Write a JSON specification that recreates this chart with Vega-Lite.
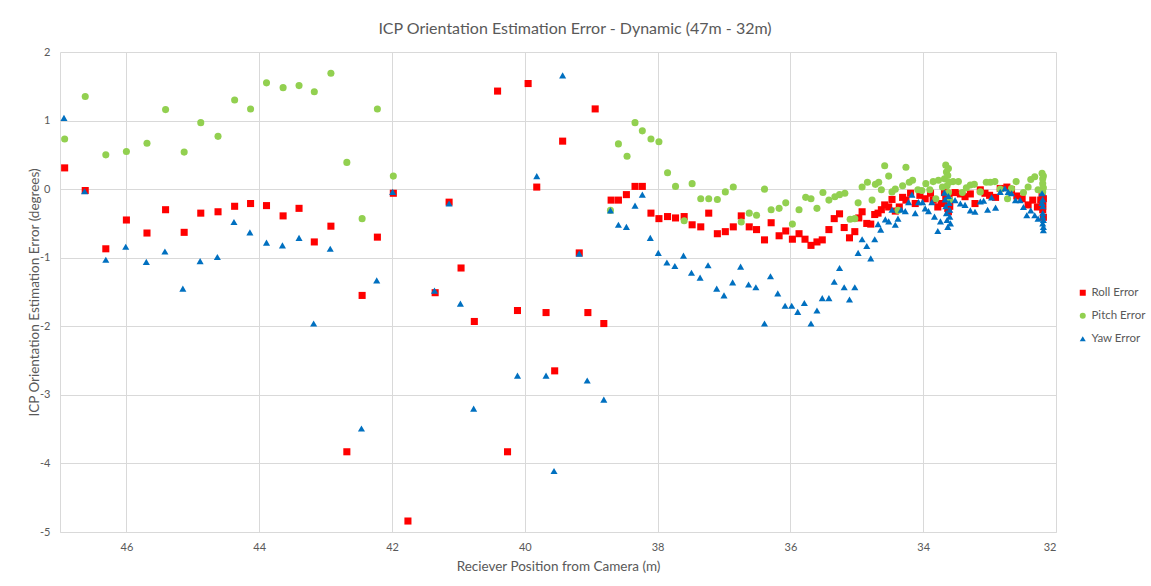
{
  "$schema": "https://vega.github.io/schema/vega-lite/v6.json",
  "width": 996,
  "height": 480,
  "autosize": {"type": "none"},
  "padding": {"left": 60, "top": 52, "right": 95, "bottom": 54},
  "background": "white",
  "config": {
    "view": {"stroke": null},
    "font": "Lato",
    "axis": {"labelColor": "#595959", "titleColor": "#595959", "labelFont": "Lato", "titleFont": "Lato", "titleFontWeight": "normal", "gridColor": "#d9d9d9", "domainColor": "#d9d9d9", "ticks": false, "labelFontSize": 11, "titleFontSize": 13.5}
  },
  "title": {"text": "ICP Orientation Estimation Error - Dynamic (47m - 32m)", "fontSize": 16, "fontWeight": "normal", "color": "#595959", "font": "Lato", "anchor": "middle", "dx": 17, "offset": 9},
  "data": {"values": [
    {"p":46.93,"e":0.31,"s":"Roll Error"},{"p":46.62,"e":-0.02,"s":"Roll Error"},{"p":46.31,"e":-0.87,"s":"Roll Error"},{"p":46.0,"e":-0.45,"s":"Roll Error"},{"p":45.69,"e":-0.64,"s":"Roll Error"},{"p":45.41,"e":-0.3,"s":"Roll Error"},{"p":45.13,"e":-0.63,"s":"Roll Error"},{"p":44.88,"e":-0.35,"s":"Roll Error"},{"p":44.62,"e":-0.33,"s":"Roll Error"},{"p":44.37,"e":-0.25,"s":"Roll Error"},{"p":44.13,"e":-0.21,"s":"Roll Error"},{"p":43.89,"e":-0.24,"s":"Roll Error"},{"p":43.64,"e":-0.39,"s":"Roll Error"},{"p":43.4,"e":-0.28,"s":"Roll Error"},{"p":43.17,"e":-0.77,"s":"Roll Error"},{"p":42.92,"e":-0.54,"s":"Roll Error"},{"p":42.68,"e":-3.83,"s":"Roll Error"},{"p":42.45,"e":-1.55,"s":"Roll Error"},{"p":42.22,"e":-0.7,"s":"Roll Error"},{"p":41.98,"e":-0.06,"s":"Roll Error"},{"p":41.76,"e":-4.84,"s":"Roll Error"},{"p":41.35,"e":-1.51,"s":"Roll Error"},{"p":41.14,"e":-0.19,"s":"Roll Error"},{"p":40.96,"e":-1.15,"s":"Roll Error"},{"p":40.76,"e":-1.93,"s":"Roll Error"},{"p":40.41,"e":1.43,"s":"Roll Error"},{"p":40.26,"e":-3.83,"s":"Roll Error"},{"p":40.11,"e":-1.77,"s":"Roll Error"},{"p":39.95,"e":1.54,"s":"Roll Error"},{"p":39.82,"e":0.03,"s":"Roll Error"},{"p":39.68,"e":-1.8,"s":"Roll Error"},{"p":39.55,"e":-2.65,"s":"Roll Error"},{"p":39.43,"e":0.7,"s":"Roll Error"},{"p":39.18,"e":-0.93,"s":"Roll Error"},{"p":39.05,"e":-1.8,"s":"Roll Error"},{"p":38.94,"e":1.17,"s":"Roll Error"},{"p":38.81,"e":-1.96,"s":"Roll Error"},{"p":38.7,"e":-0.16,"s":"Roll Error"},{"p":38.59,"e":-0.16,"s":"Roll Error"},{"p":38.47,"e":-0.08,"s":"Roll Error"},{"p":38.34,"e":0.04,"s":"Roll Error"},{"p":38.23,"e":0.04,"s":"Roll Error"},{"p":38.1,"e":-0.35,"s":"Roll Error"},{"p":37.98,"e":-0.43,"s":"Roll Error"},{"p":37.85,"e":-0.4,"s":"Roll Error"},{"p":37.73,"e":-0.42,"s":"Roll Error"},{"p":37.6,"e":-0.4,"s":"Roll Error"},{"p":37.48,"e":-0.52,"s":"Roll Error"},{"p":37.35,"e":-0.55,"s":"Roll Error"},{"p":37.23,"e":-0.35,"s":"Roll Error"},{"p":37.1,"e":-0.65,"s":"Roll Error"},{"p":36.98,"e":-0.62,"s":"Roll Error"},{"p":36.86,"e":-0.55,"s":"Roll Error"},{"p":36.74,"e":-0.39,"s":"Roll Error"},{"p":36.62,"e":-0.55,"s":"Roll Error"},{"p":36.51,"e":-0.59,"s":"Roll Error"},{"p":36.39,"e":-0.74,"s":"Roll Error"},{"p":36.29,"e":-0.49,"s":"Roll Error"},{"p":36.17,"e":-0.68,"s":"Roll Error"},{"p":36.07,"e":-0.61,"s":"Roll Error"},{"p":35.97,"e":-0.73,"s":"Roll Error"},{"p":35.87,"e":-0.65,"s":"Roll Error"},{"p":35.78,"e":-0.73,"s":"Roll Error"},{"p":35.69,"e":-0.82,"s":"Roll Error"},{"p":35.6,"e":-0.77,"s":"Roll Error"},{"p":35.52,"e":-0.74,"s":"Roll Error"},{"p":35.42,"e":-0.59,"s":"Roll Error"},{"p":35.34,"e":-0.43,"s":"Roll Error"},{"p":35.26,"e":-0.36,"s":"Roll Error"},{"p":35.19,"e":-0.56,"s":"Roll Error"},{"p":35.11,"e":-0.71,"s":"Roll Error"},{"p":35.03,"e":-0.62,"s":"Roll Error"},{"p":34.97,"e":-0.42,"s":"Roll Error"},{"p":34.92,"e":-0.33,"s":"Roll Error"},{"p":34.85,"e":-0.5,"s":"Roll Error"},{"p":34.79,"e":-0.51,"s":"Roll Error"},{"p":34.73,"e":-0.37,"s":"Roll Error"},{"p":34.68,"e":-0.35,"s":"Roll Error"},{"p":34.63,"e":-0.3,"s":"Roll Error"},{"p":34.58,"e":-0.23,"s":"Roll Error"},{"p":34.52,"e":-0.26,"s":"Roll Error"},{"p":34.47,"e":-0.15,"s":"Roll Error"},{"p":34.42,"e":-0.32,"s":"Roll Error"},{"p":34.36,"e":-0.26,"s":"Roll Error"},{"p":34.31,"e":-0.12,"s":"Roll Error"},{"p":34.26,"e":-0.16,"s":"Roll Error"},{"p":34.19,"e":-0.06,"s":"Roll Error"},{"p":34.12,"e":-0.21,"s":"Roll Error"},{"p":34.05,"e":-0.09,"s":"Roll Error"},{"p":33.97,"e":-0.14,"s":"Roll Error"},{"p":33.89,"e":-0.06,"s":"Roll Error"},{"p":33.85,"e":-0.16,"s":"Roll Error"},{"p":33.78,"e":-0.26,"s":"Roll Error"},{"p":33.73,"e":-0.21,"s":"Roll Error"},{"p":33.68,"e":-0.05,"s":"Roll Error"},{"p":33.66,"e":-0.12,"s":"Roll Error"},{"p":33.64,"e":-0.2,"s":"Roll Error"},{"p":33.63,"e":-0.28,"s":"Roll Error"},{"p":33.62,"e":-0.33,"s":"Roll Error"},{"p":33.61,"e":-0.1,"s":"Roll Error"},{"p":33.6,"e":-0.25,"s":"Roll Error"},{"p":33.52,"e":-0.05,"s":"Roll Error"},{"p":33.44,"e":-0.07,"s":"Roll Error"},{"p":33.37,"e":-0.11,"s":"Roll Error"},{"p":33.29,"e":-0.07,"s":"Roll Error"},{"p":33.22,"e":-0.21,"s":"Roll Error"},{"p":33.14,"e":-0.01,"s":"Roll Error"},{"p":33.07,"e":-0.06,"s":"Roll Error"},{"p":33.0,"e":-0.09,"s":"Roll Error"},{"p":32.91,"e":-0.12,"s":"Roll Error"},{"p":32.84,"e":0.01,"s":"Roll Error"},{"p":32.74,"e":0.03,"s":"Roll Error"},{"p":32.67,"e":-0.01,"s":"Roll Error"},{"p":32.59,"e":-0.1,"s":"Roll Error"},{"p":32.51,"e":-0.14,"s":"Roll Error"},{"p":32.42,"e":-0.23,"s":"Roll Error"},{"p":32.35,"e":-0.16,"s":"Roll Error"},{"p":32.28,"e":-0.26,"s":"Roll Error"},{"p":32.23,"e":-0.16,"s":"Roll Error"},{"p":32.21,"e":-0.09,"s":"Roll Error"},{"p":32.2,"e":-0.2,"s":"Roll Error"},{"p":32.2,"e":-0.3,"s":"Roll Error"},{"p":32.19,"e":-0.41,"s":"Roll Error"},{"p":32.19,"e":-0.14,"s":"Roll Error"},{"p":32.2,"e":-0.25,"s":"Roll Error"},
    {"p":46.93,"e":0.73,"s":"Pitch Error"},{"p":46.62,"e":1.35,"s":"Pitch Error"},{"p":46.31,"e":0.5,"s":"Pitch Error"},{"p":46.0,"e":0.55,"s":"Pitch Error"},{"p":45.69,"e":0.67,"s":"Pitch Error"},{"p":45.41,"e":1.16,"s":"Pitch Error"},{"p":45.13,"e":0.54,"s":"Pitch Error"},{"p":44.88,"e":0.97,"s":"Pitch Error"},{"p":44.62,"e":0.77,"s":"Pitch Error"},{"p":44.37,"e":1.3,"s":"Pitch Error"},{"p":44.13,"e":1.17,"s":"Pitch Error"},{"p":43.89,"e":1.55,"s":"Pitch Error"},{"p":43.64,"e":1.48,"s":"Pitch Error"},{"p":43.4,"e":1.51,"s":"Pitch Error"},{"p":43.17,"e":1.42,"s":"Pitch Error"},{"p":42.92,"e":1.69,"s":"Pitch Error"},{"p":42.68,"e":0.39,"s":"Pitch Error"},{"p":42.45,"e":-0.43,"s":"Pitch Error"},{"p":42.22,"e":1.17,"s":"Pitch Error"},{"p":41.98,"e":0.19,"s":"Pitch Error"},{"p":38.71,"e":-0.31,"s":"Pitch Error"},{"p":38.59,"e":0.66,"s":"Pitch Error"},{"p":38.46,"e":0.48,"s":"Pitch Error"},{"p":38.34,"e":0.97,"s":"Pitch Error"},{"p":38.23,"e":0.85,"s":"Pitch Error"},{"p":38.1,"e":0.73,"s":"Pitch Error"},{"p":37.98,"e":0.69,"s":"Pitch Error"},{"p":37.85,"e":0.24,"s":"Pitch Error"},{"p":37.73,"e":0.04,"s":"Pitch Error"},{"p":37.6,"e":-0.46,"s":"Pitch Error"},{"p":37.48,"e":0.08,"s":"Pitch Error"},{"p":37.35,"e":-0.14,"s":"Pitch Error"},{"p":37.23,"e":-0.14,"s":"Pitch Error"},{"p":37.1,"e":-0.15,"s":"Pitch Error"},{"p":36.98,"e":-0.04,"s":"Pitch Error"},{"p":36.86,"e":0.03,"s":"Pitch Error"},{"p":36.74,"e":-0.48,"s":"Pitch Error"},{"p":36.62,"e":-0.35,"s":"Pitch Error"},{"p":36.51,"e":-0.38,"s":"Pitch Error"},{"p":36.39,"e":0.0,"s":"Pitch Error"},{"p":36.29,"e":-0.3,"s":"Pitch Error"},{"p":36.17,"e":-0.28,"s":"Pitch Error"},{"p":36.07,"e":-0.2,"s":"Pitch Error"},{"p":35.97,"e":-0.51,"s":"Pitch Error"},{"p":35.87,"e":-0.3,"s":"Pitch Error"},{"p":35.77,"e":-0.12,"s":"Pitch Error"},{"p":35.69,"e":-0.14,"s":"Pitch Error"},{"p":35.6,"e":-0.28,"s":"Pitch Error"},{"p":35.51,"e":-0.05,"s":"Pitch Error"},{"p":35.42,"e":-0.16,"s":"Pitch Error"},{"p":35.33,"e":-0.11,"s":"Pitch Error"},{"p":35.26,"e":-0.08,"s":"Pitch Error"},{"p":35.18,"e":-0.06,"s":"Pitch Error"},{"p":35.1,"e":-0.44,"s":"Pitch Error"},{"p":35.03,"e":-0.43,"s":"Pitch Error"},{"p":34.98,"e":-0.2,"s":"Pitch Error"},{"p":34.92,"e":0.03,"s":"Pitch Error"},{"p":34.84,"e":0.1,"s":"Pitch Error"},{"p":34.77,"e":-0.16,"s":"Pitch Error"},{"p":34.72,"e":0.07,"s":"Pitch Error"},{"p":34.67,"e":0.1,"s":"Pitch Error"},{"p":34.63,"e":-0.01,"s":"Pitch Error"},{"p":34.58,"e":0.34,"s":"Pitch Error"},{"p":34.52,"e":0.19,"s":"Pitch Error"},{"p":34.47,"e":-0.04,"s":"Pitch Error"},{"p":34.42,"e":0.0,"s":"Pitch Error"},{"p":34.38,"e":-0.31,"s":"Pitch Error"},{"p":34.31,"e":0.05,"s":"Pitch Error"},{"p":34.26,"e":0.32,"s":"Pitch Error"},{"p":34.21,"e":0.1,"s":"Pitch Error"},{"p":34.16,"e":0.13,"s":"Pitch Error"},{"p":34.08,"e":-0.01,"s":"Pitch Error"},{"p":34.02,"e":-0.02,"s":"Pitch Error"},{"p":33.96,"e":0.08,"s":"Pitch Error"},{"p":33.9,"e":-0.01,"s":"Pitch Error"},{"p":33.85,"e":0.11,"s":"Pitch Error"},{"p":33.81,"e":-0.14,"s":"Pitch Error"},{"p":33.77,"e":0.13,"s":"Pitch Error"},{"p":33.71,"e":0.03,"s":"Pitch Error"},{"p":33.68,"e":0.15,"s":"Pitch Error"},{"p":33.66,"e":0.35,"s":"Pitch Error"},{"p":33.65,"e":0.25,"s":"Pitch Error"},{"p":33.64,"e":0.05,"s":"Pitch Error"},{"p":33.63,"e":0.2,"s":"Pitch Error"},{"p":33.62,"e":-0.05,"s":"Pitch Error"},{"p":33.61,"e":0.1,"s":"Pitch Error"},{"p":33.6,"e":-0.16,"s":"Pitch Error"},{"p":33.62,"e":0.3,"s":"Pitch Error"},{"p":33.55,"e":0.11,"s":"Pitch Error"},{"p":33.47,"e":0.11,"s":"Pitch Error"},{"p":33.41,"e":-0.05,"s":"Pitch Error"},{"p":33.35,"e":0.02,"s":"Pitch Error"},{"p":33.29,"e":0.06,"s":"Pitch Error"},{"p":33.23,"e":0.07,"s":"Pitch Error"},{"p":33.14,"e":-0.04,"s":"Pitch Error"},{"p":33.05,"e":0.1,"s":"Pitch Error"},{"p":32.99,"e":0.1,"s":"Pitch Error"},{"p":32.92,"e":0.11,"s":"Pitch Error"},{"p":32.84,"e":0.0,"s":"Pitch Error"},{"p":32.73,"e":-0.14,"s":"Pitch Error"},{"p":32.67,"e":0.01,"s":"Pitch Error"},{"p":32.6,"e":0.11,"s":"Pitch Error"},{"p":32.49,"e":-0.05,"s":"Pitch Error"},{"p":32.42,"e":0.03,"s":"Pitch Error"},{"p":32.38,"e":0.14,"s":"Pitch Error"},{"p":32.32,"e":0.18,"s":"Pitch Error"},{"p":32.27,"e":-0.01,"s":"Pitch Error"},{"p":32.21,"e":0.23,"s":"Pitch Error"},{"p":32.2,"e":0.15,"s":"Pitch Error"},{"p":32.2,"e":0.08,"s":"Pitch Error"},{"p":32.19,"e":0.02,"s":"Pitch Error"},{"p":32.2,"e":-0.04,"s":"Pitch Error"},{"p":32.19,"e":0.19,"s":"Pitch Error"},
    {"p":46.94,"e":1.04,"s":"Yaw Error"},{"p":46.63,"e":-0.03,"s":"Yaw Error"},{"p":46.31,"e":-1.03,"s":"Yaw Error"},{"p":46.01,"e":-0.84,"s":"Yaw Error"},{"p":45.7,"e":-1.06,"s":"Yaw Error"},{"p":45.42,"e":-0.91,"s":"Yaw Error"},{"p":45.15,"e":-1.45,"s":"Yaw Error"},{"p":44.89,"e":-1.05,"s":"Yaw Error"},{"p":44.63,"e":-0.99,"s":"Yaw Error"},{"p":44.38,"e":-0.48,"s":"Yaw Error"},{"p":44.14,"e":-0.63,"s":"Yaw Error"},{"p":43.89,"e":-0.78,"s":"Yaw Error"},{"p":43.65,"e":-0.82,"s":"Yaw Error"},{"p":43.4,"e":-0.71,"s":"Yaw Error"},{"p":43.18,"e":-1.96,"s":"Yaw Error"},{"p":42.93,"e":-0.87,"s":"Yaw Error"},{"p":42.46,"e":-3.49,"s":"Yaw Error"},{"p":42.23,"e":-1.33,"s":"Yaw Error"},{"p":41.99,"e":-0.04,"s":"Yaw Error"},{"p":41.36,"e":-1.48,"s":"Yaw Error"},{"p":41.14,"e":-0.21,"s":"Yaw Error"},{"p":40.97,"e":-1.67,"s":"Yaw Error"},{"p":40.77,"e":-3.2,"s":"Yaw Error"},{"p":40.11,"e":-2.72,"s":"Yaw Error"},{"p":39.82,"e":0.19,"s":"Yaw Error"},{"p":39.68,"e":-2.72,"s":"Yaw Error"},{"p":39.56,"e":-4.11,"s":"Yaw Error"},{"p":39.43,"e":1.66,"s":"Yaw Error"},{"p":39.18,"e":-0.94,"s":"Yaw Error"},{"p":39.06,"e":-2.79,"s":"Yaw Error"},{"p":38.81,"e":-3.07,"s":"Yaw Error"},{"p":38.71,"e":-0.31,"s":"Yaw Error"},{"p":38.59,"e":-0.52,"s":"Yaw Error"},{"p":38.47,"e":-0.55,"s":"Yaw Error"},{"p":38.34,"e":-0.24,"s":"Yaw Error"},{"p":38.23,"e":-0.08,"s":"Yaw Error"},{"p":38.11,"e":-0.71,"s":"Yaw Error"},{"p":37.99,"e":-0.93,"s":"Yaw Error"},{"p":37.86,"e":-1.07,"s":"Yaw Error"},{"p":37.74,"e":-1.12,"s":"Yaw Error"},{"p":37.61,"e":-0.97,"s":"Yaw Error"},{"p":37.49,"e":-1.22,"s":"Yaw Error"},{"p":37.36,"e":-1.29,"s":"Yaw Error"},{"p":37.24,"e":-1.11,"s":"Yaw Error"},{"p":37.11,"e":-1.45,"s":"Yaw Error"},{"p":37.0,"e":-1.55,"s":"Yaw Error"},{"p":36.87,"e":-1.36,"s":"Yaw Error"},{"p":36.75,"e":-1.13,"s":"Yaw Error"},{"p":36.63,"e":-1.39,"s":"Yaw Error"},{"p":36.52,"e":-1.43,"s":"Yaw Error"},{"p":36.39,"e":-1.96,"s":"Yaw Error"},{"p":36.3,"e":-1.27,"s":"Yaw Error"},{"p":36.19,"e":-1.52,"s":"Yaw Error"},{"p":36.08,"e":-1.7,"s":"Yaw Error"},{"p":35.98,"e":-1.7,"s":"Yaw Error"},{"p":35.89,"e":-1.79,"s":"Yaw Error"},{"p":35.79,"e":-1.66,"s":"Yaw Error"},{"p":35.69,"e":-1.96,"s":"Yaw Error"},{"p":35.6,"e":-1.77,"s":"Yaw Error"},{"p":35.52,"e":-1.59,"s":"Yaw Error"},{"p":35.42,"e":-1.59,"s":"Yaw Error"},{"p":35.34,"e":-1.35,"s":"Yaw Error"},{"p":35.26,"e":-1.15,"s":"Yaw Error"},{"p":35.19,"e":-1.43,"s":"Yaw Error"},{"p":35.11,"e":-1.61,"s":"Yaw Error"},{"p":35.03,"e":-1.43,"s":"Yaw Error"},{"p":34.98,"e":-0.93,"s":"Yaw Error"},{"p":34.92,"e":-0.73,"s":"Yaw Error"},{"p":34.85,"e":-0.83,"s":"Yaw Error"},{"p":34.79,"e":-1.01,"s":"Yaw Error"},{"p":34.73,"e":-0.73,"s":"Yaw Error"},{"p":34.68,"e":-0.51,"s":"Yaw Error"},{"p":34.64,"e":-0.59,"s":"Yaw Error"},{"p":34.57,"e":-0.44,"s":"Yaw Error"},{"p":34.52,"e":-0.47,"s":"Yaw Error"},{"p":34.47,"e":-0.3,"s":"Yaw Error"},{"p":34.42,"e":-0.52,"s":"Yaw Error"},{"p":34.38,"e":-0.43,"s":"Yaw Error"},{"p":34.33,"e":-0.3,"s":"Yaw Error"},{"p":34.27,"e":-0.32,"s":"Yaw Error"},{"p":34.22,"e":-0.19,"s":"Yaw Error"},{"p":34.17,"e":-0.08,"s":"Yaw Error"},{"p":34.12,"e":-0.35,"s":"Yaw Error"},{"p":34.07,"e":-0.19,"s":"Yaw Error"},{"p":34.01,"e":-0.19,"s":"Yaw Error"},{"p":33.97,"e":-0.28,"s":"Yaw Error"},{"p":33.92,"e":-0.32,"s":"Yaw Error"},{"p":33.87,"e":-0.19,"s":"Yaw Error"},{"p":33.83,"e":-0.4,"s":"Yaw Error"},{"p":33.78,"e":-0.61,"s":"Yaw Error"},{"p":33.74,"e":-0.47,"s":"Yaw Error"},{"p":33.68,"e":-0.05,"s":"Yaw Error"},{"p":33.67,"e":-0.15,"s":"Yaw Error"},{"p":33.66,"e":-0.25,"s":"Yaw Error"},{"p":33.65,"e":-0.35,"s":"Yaw Error"},{"p":33.64,"e":-0.45,"s":"Yaw Error"},{"p":33.63,"e":-0.55,"s":"Yaw Error"},{"p":33.62,"e":-0.1,"s":"Yaw Error"},{"p":33.61,"e":-0.2,"s":"Yaw Error"},{"p":33.6,"e":-0.3,"s":"Yaw Error"},{"p":33.6,"e":-0.4,"s":"Yaw Error"},{"p":33.59,"e":-0.5,"s":"Yaw Error"},{"p":33.52,"e":-0.16,"s":"Yaw Error"},{"p":33.44,"e":-0.21,"s":"Yaw Error"},{"p":33.37,"e":-0.23,"s":"Yaw Error"},{"p":33.29,"e":-0.31,"s":"Yaw Error"},{"p":33.22,"e":-0.33,"s":"Yaw Error"},{"p":33.14,"e":-0.18,"s":"Yaw Error"},{"p":33.09,"e":-0.17,"s":"Yaw Error"},{"p":33.03,"e":-0.3,"s":"Yaw Error"},{"p":32.97,"e":-0.12,"s":"Yaw Error"},{"p":32.91,"e":-0.27,"s":"Yaw Error"},{"p":32.84,"e":-0.04,"s":"Yaw Error"},{"p":32.77,"e":0.01,"s":"Yaw Error"},{"p":32.72,"e":-0.04,"s":"Yaw Error"},{"p":32.67,"e":-0.06,"s":"Yaw Error"},{"p":32.61,"e":-0.16,"s":"Yaw Error"},{"p":32.54,"e":-0.16,"s":"Yaw Error"},{"p":32.49,"e":-0.26,"s":"Yaw Error"},{"p":32.44,"e":-0.38,"s":"Yaw Error"},{"p":32.38,"e":-0.31,"s":"Yaw Error"},{"p":32.32,"e":-0.38,"s":"Yaw Error"},{"p":32.27,"e":-0.43,"s":"Yaw Error"},{"p":32.21,"e":-0.06,"s":"Yaw Error"},{"p":32.2,"e":-0.15,"s":"Yaw Error"},{"p":32.2,"e":-0.25,"s":"Yaw Error"},{"p":32.2,"e":-0.35,"s":"Yaw Error"},{"p":32.19,"e":-0.45,"s":"Yaw Error"},{"p":32.19,"e":-0.55,"s":"Yaw Error"},{"p":32.19,"e":-0.6,"s":"Yaw Error"},{"p":32.21,"e":-0.2,"s":"Yaw Error"},{"p":32.2,"e":-0.4,"s":"Yaw Error"},{"p":32.2,"e":-0.5,"s":"Yaw Error"}
  ]},
  "mark": {"type": "point", "filled": true, "opacity": 1, "size": 50},
  "encoding": {
    "x": {"field": "p", "type": "quantitative", "title": "Reciever Position from Camera (m)",
      "scale": {"domain": [32, 47], "reverse": true, "nice": false, "zero": false},
      "axis": {"values": [32, 34, 36, 38, 40, 42, 44, 46], "labelPadding": 9, "titlePadding": 7, "format": "d"}},
    "y": {"field": "e", "type": "quantitative", "title": "ICP Orientation Estimation Error  (degrees)",
      "scale": {"domain": [-5, 2], "nice": false, "zero": false},
      "axis": {"values": [-5, -4, -3, -2, -1, 0, 1, 2], "labelPadding": 10, "titlePadding": -2, "labelExpr": "toString(datum.value)"}},
    "color": {"field": "s", "type": "nominal", "sort": null, "title": null,
      "scale": {"domain": ["Roll Error", "Pitch Error", "Yaw Error"], "range": ["#ff0000", "#92d050", "#0070c0"]},
      "legend": {"orient": "none", "legendX": 1017, "legendY": 235, "labelColor": "#595959", "labelFontSize": 11.5, "labelFont": "Lato", "symbolSize": 36, "rowPadding": 10, "labelOffset": 3}},
    "shape": {"field": "s", "type": "nominal", "sort": null, "title": null,
      "scale": {"domain": ["Roll Error", "Pitch Error", "Yaw Error"], "range": ["square", "circle", "triangle-up"]}},
    "order": {"value": 0}
  }
}
